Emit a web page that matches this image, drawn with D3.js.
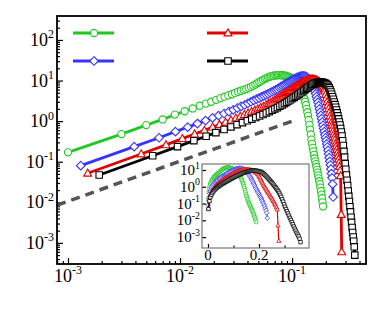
<!DOCTYPE html>
<html>
<head>
<meta charset="utf-8">
<script src="https://cdn.jsdelivr.net/npm/d3@7"></script>
<style>
  body { margin: 0; background: #fff; }
  svg { display: block; }
  text { font-family: "Liberation Serif", "Times New Roman", serif; fill: #000; }
</style>
</head>
<body>
<svg id="chart" width="374" height="312"></svg>
<script>
// ---- data ----
const greenX = [.001,.003,.005,.007,.009,.011,.013,.015,.017,.019,
  .021,.023,.025,.027,.029,.031,.033,.035,.037,.039,
  .041,.043,.045,.047,.049,.051,.053,.055,.057,.059,
  .061,.063,.065,.067,.069,.071,.073,.075,.077,.079,
  .081,.083,.085,.087,.089,.091,.093,.095,.097,.099,
  .101,.103,.105,.107,.109,.111,.113,.115,.117,.119,
  .121,.123,.125,.127,.129,.131,.133,.135,.137,.139,
  .141,.143,.145,.147,.149,.151,.153,.155,.157,.159,
  .161,.163,.165,.167,.169,.171,.173,.175,.177,.179,
  .181,.183,.185,.187,.189];
const greenY = [.17,.48,.8,1.1,1.45,1.75,2.05,2.4,2.7,3.0,
  3.35,3.7,4.0,4.3,4.6,4.95,5.3,5.6,5.9,6.2,
  6.6,7.0,7.5,8.0,8.6,9.2,9.8,10.4,11.0,11.5,
  12.0,12.4,12.7,13.0,13.2,13.4,13.5,13.6,13.6,13.6,
  13.5,13.4,13.3,13.1,12.9,12.6,12.3,12.0,11.7,11.4,
  11.1,10.7,10.2,9.7,9.1,8.5,7.9,7.2,6.6,6.1,
  5.5,4.9,4.4,3.9,3.5,3.0,2.5,2.0,1.66,1.35,
  1.07,.81,.62,.47,.35,.275,.22,.18,.148,.12,
  .102,.087,.074,.063,.054,.046,.039,.033,.028,.023,
  .019,.0155,.0126,.010,.0079];

const blueX = [.0013,.0039,.0065,.0091,.0117,.0143,.0169,.0195,.0221,.0247,
  .0273,.0299,.0325,.0351,.0377,.0403,.0429,.0455,.0481,.0507,
  .0533,.0559,.0585,.0611,.0637,.0663,.0689,.0715,.0741,.0767,
  .0793,.0819,.0845,.0871,.0897,.0923,.0949,.0975,.1001,.1027,
  .1053,.1079,.1105,.1131,.1157,.1183,.1209,.1235,.1261,.1287,
  .1313,.1339,.1365,.1391,.1417,.1443,.1469,.1495,.1521,.1547,
  .1573,.1599,.1625,.1651,.1677,.1703,.1729,.1755,.1781,.1807,
  .1833,.1859,.1885,.1911,.1937,.1963,.1989,.2015,.2041,.2067,
  .2093,.2119,.2145,.2171,.2197,.2223,.2249,.2275,.2301,.2327];
const blueY = [.08,.235,.39,.55,.71,.87,1.03,1.2,1.37,1.54,
  1.72,1.9,2.1,2.3,2.5,2.75,3.0,3.25,3.5,3.7,
  3.95,4.2,4.45,4.7,5.0,5.3,5.6,5.9,6.2,6.6,
  7.0,7.4,7.8,8.2,8.6,9.0,9.4,9.8,10.2,10.6,
  11.0,11.4,11.8,12.1,12.4,12.6,12.8,12.9,12.9,12.8,
  12.6,12.3,11.9,11.4,10.8,10.0,9.1,8.5,7.6,6.9,
  6.2,5.5,4.7,4.0,3.4,2.9,2.4,2.0,1.66,1.38,
  1.15,.95,.79,.66,.55,.46,.39,.33,.275,.23,
  .19,.155,.126,.102,.083,.066,.051,.040,.028,.0135];

const redX = [.0015,.0045,.0075,.0105,.0135,.0165,.0195,.0225,.0255,.0285,
  .0315,.0345,.0375,.0405,.0435,.0465,.0495,.0525,.0555,.0585,
  .0615,.0645,.0675,.0705,.0735,.0765,.0795,.0825,.0855,.0885,
  .0915,.0945,.0975,.1005,.1035,.1065,.1095,.1125,.1155,.1185,
  .1215,.1245,.1275,.1305,.1335,.1365,.1395,.1425,.1455,.1485,
  .1515,.1545,.1575,.1605,.1635,.1665,.1695,.1725,.1755,.1785,
  .1815,.1845,.1875,.1905,.1935,.1965,.1995,.2025,.2055,.2085,
  .2115,.2145,.2175,.2205,.2235,.2265,.2295,.2325,.2355,.2385,
  .2415,.2445,.2475,.2505,.2535,.2565,.2595,.2625,.2655,.2685,
  .2715,.2745,.2775];
const redY = [.052,.155,.26,.37,.48,.59,.71,.82,.94,1.06,
  1.18,1.31,1.44,1.57,1.71,1.85,2.0,2.15,2.3,2.5,
  2.7,2.9,3.1,3.35,3.6,3.85,4.1,4.4,4.7,5.0,
  5.35,5.7,6.05,6.4,6.75,7.1,7.45,7.8,8.15,8.5,
  8.85,9.2,9.5,9.8,10.05,10.3,10.5,10.65,10.75,10.8,
  10.8,10.75,10.65,10.5,10.3,10.1,9.85,9.55,9.2,8.8,
  8.35,7.85,7.3,6.7,6.1,5.5,4.5,3.7,3.0,2.45,
  2.0,1.62,1.32,1.1,.91,.78,.66,.56,.47,.40,
  .34,.28,.24,.20,.166,.138,.115,.093,.076,.060,
  .045,.005,.0006];

const blackX = [.0019,.0057,.0095,.0133,.0171,.0209,.0247,.0285,.0323,.0361,
  .0399,.0437,.0475,.0513,.0551,.0589,.0627,.0665,.0703,.0741,
  .0779,.0817,.0855,.0893,.0931,.0969,.1007,.1045,.1083,.1121,
  .1159,.1197,.1235,.1273,.1311,.1349,.1387,.1425,.1463,.1501,
  .1539,.1577,.1615,.1653,.1691,.1729,.1767,.1805,.1843,.1881,
  .1919,.1957,.1995,.2033,.2071,.2109,.2147,.2185,.2223,.2261,
  .2299,.2337,.2375,.2413,.2451,.2489,.2527,.2565,.2603,.2641,
  .2679,.2717,.2755,.2793,.2831,.2869,.2907,.2945,.2983,.3021,
  .3059,.3097,.3135,.3173,.3211,.3249,.3287,.3325,.3363,.3401,
  .3439,.3477,.3515,.3553,.3591,.3629];
const blackY = [.047,.14,.235,.33,.425,.52,.62,.72,.82,.92,
  1.02,1.12,1.23,1.34,1.46,1.58,1.71,1.85,2.0,2.15,
  2.32,2.5,2.7,2.9,3.12,3.35,3.6,3.85,4.1,4.4,
  4.7,5.0,5.35,5.7,6.05,6.4,6.75,7.1,7.45,7.8,
  8.1,8.4,8.65,8.85,9.0,9.1,9.15,9.15,9.1,9.0,
  8.85,8.65,8.4,8.1,7.75,7.2,6.6,5.9,5.2,4.6,
  4.0,3.45,2.95,2.55,2.2,1.88,1.6,1.35,1.14,.95,
  .8,.66,.54,.43,.33,.25,.18,.13,.09,.065,
  .047,.035,.026,.019,.014,.0105,.0078,.0058,.0043,.0032,
  .0024,.0018,.0014,.0011,.0008,.0005];

// reference slope-1 guide line
const guideX = [0.0008, 0.1];
const guideY = [0.0085, 1.0];

// tick labels (powers of ten)
const xTickExp = [-3, -2, -1];
const yTickExp = [-3, -2, -1, 0, 1, 2];
const insetYTickExp = [-3, -2, -1, 0, 1];
const insetXTicks = [0, 0.2];
const insetXMinor = [0.1, 0.3];

const series = [
  {xs: greenX, ys: greenY, color: "#20c820", shape: "circle"},
  {xs: blueX, ys: blueY, color: "#3535ff", shape: "diamond"},
  {xs: redX, ys: redY, color: "#e00000", shape: "triangle"},
  {xs: blackX, ys: blackY, color: "#000000", shape: "square"}
];

// ---- helpers ----
function markerPath(shape, s) {
  if (shape === "circle") return d3.symbol(d3.symbolCircle, Math.PI * s * s)();
  if (shape === "diamond") return `M0,${-s * 1.2}L${s * 1.2},0L0,${s * 1.2}L${-s * 1.2},0Z`;
  if (shape === "triangle") return `M0,${-s * 1.15}L${s * 1.1},${s * 0.8}L${-s * 1.1},${s * 0.8}Z`;
  return `M${-s * 0.9},${-s * 0.9}h${s * 1.8}v${s * 1.8}h${-s * 1.8}Z`;
}

function powLabel(g, px, py, exp, size, anchor) {
  const t = g.append("text")
    .attr("x", px).attr("y", py)
    .attr("text-anchor", anchor)
    .style("font-size", size + "px");
  t.append("tspan").text("10");
  t.append("tspan")
    .attr("dy", -size * 0.42)
    .style("font-size", (size * 0.66) + "px")
    .text(exp);
}

function drawSeries(g, xs, ys, lineW, markR, markW) {
  series.forEach(d => {
    const pts = d.xs.map((v, i) => [v, d.ys[i]]);
    g.append("path")
      .datum(pts)
      .attr("fill", "none")
      .attr("stroke", d.color)
      .attr("stroke-width", lineW)
      .attr("d", d3.line().x(p => xs(p[0])).y(p => ys(p[1])));
    g.selectAll(null)
      .data(pts)
      .enter().append("path")
      .attr("transform", p => `translate(${xs(p[0])},${ys(p[1])})`)
      .attr("d", markerPath(d.shape, markR))
      .attr("fill", "#fff")
      .attr("stroke", d.color)
      .attr("stroke-width", markW);
  });
}

// ---- main plot ----
const svg = d3.select("#chart");
const plot = {left: 57, right: 366, top: 16, bottom: 264};

const x = d3.scaleLog().domain([Math.pow(10, -3.098), Math.pow(10, -0.34)]).range([plot.left, plot.right]);
const y = d3.scaleLog().domain([Math.pow(10, -3.52), Math.pow(10, 2.59)]).range([plot.bottom, plot.top]);

// ticks (inward)
const isDecade = v => Math.abs(Math.log10(v) - Math.round(Math.log10(v))) < 1e-6;
const xAll = x.ticks();
const xMajor = xAll.filter(isDecade);
const xMinor = xAll.filter(v => !isDecade(v));
const yAll = y.ticks();
const yMajor = yAll.filter(isDecade);
const yMinor = yAll.filter(v => !isDecade(v));

function axisG(gen, tr) {
  const g = svg.append("g").attr("transform", tr).call(gen);
  g.select(".domain").remove();
  g.selectAll("text").remove();
  g.selectAll("line").attr("stroke", "#000").attr("stroke-width", 1.2);
  return g;
}
axisG(d3.axisBottom(x).tickValues(xMajor).tickSize(-6), `translate(0,${plot.bottom})`);
axisG(d3.axisBottom(x).tickValues(xMinor).tickSize(-3), `translate(0,${plot.bottom})`);
axisG(d3.axisLeft(y).tickValues(yMajor).tickSize(-6), `translate(${plot.left},0)`);
axisG(d3.axisLeft(y).tickValues(yMinor).tickSize(-3), `translate(${plot.left},0)`);

const labels = svg.append("g");
xTickExp.forEach(e => powLabel(labels, x(Math.pow(10, e)), 282, String(e), 18, "middle"));
yTickExp.forEach(e => powLabel(labels, 54, y(Math.pow(10, e)) + 6, String(e), 18, "end"));

// guide line
svg.append("path")
  .datum(guideX.map((v, i) => [v, guideY[i]]))
  .attr("fill", "none")
  .attr("stroke", "#555")
  .attr("stroke-width", 3.5)
  .attr("stroke-dasharray", "9,6")
  .attr("d", d3.line().x(p => x(p[0])).y(p => y(p[1])));

// data
drawSeries(svg.append("g"), x, y, 2.8, 3.6, 1.1);

// frame
svg.append("rect")
  .attr("x", plot.left).attr("y", plot.top)
  .attr("width", plot.right - plot.left).attr("height", plot.bottom - plot.top)
  .attr("fill", "none").attr("stroke", "#000").attr("stroke-width", 1.8);

// legend (labels are blank in the original)
const legendPos = [[73, 33], [73, 61], [207, 33], [207, 61]];
series.forEach((d, i) => {
  const [lx, ly] = legendPos[i];
  svg.append("line")
    .attr("x1", lx).attr("x2", lx + 41).attr("y1", ly).attr("y2", ly)
    .attr("stroke", d.color).attr("stroke-width", 3);
  svg.append("path")
    .attr("transform", `translate(${lx + 21},${ly})`)
    .attr("d", markerPath(d.shape, 3.6))
    .attr("fill", "#fff").attr("stroke", d.color).attr("stroke-width", 1.1);
});

// ---- inset ----
const ins = {left: 202, right: 309, top: 164, bottom: 248};
const ix = d3.scaleLinear().domain([-0.0235, 0.396]).range([ins.left, ins.right]);
const iy = d3.scaleLog().domain([Math.pow(10, -3.65), Math.pow(10, 1.357)]).range([ins.bottom, ins.top]);

svg.append("rect")
  .attr("x", ins.left).attr("y", ins.top)
  .attr("width", ins.right - ins.left).attr("height", ins.bottom - ins.top)
  .attr("fill", "#fff");

svg.append("clipPath").attr("id", "insClip").append("rect")
  .attr("x", ins.left).attr("y", ins.top)
  .attr("width", ins.right - ins.left).attr("height", ins.bottom - ins.top);

const iyMajor = insetYTickExp.map(e => Math.pow(10, e));
axisG(d3.axisLeft(iy).tickValues(iyMajor).tickSize(-4), `translate(${ins.left},0)`);
axisG(d3.axisBottom(ix).tickValues(insetXTicks).tickSize(-4), `translate(0,${ins.bottom})`);
axisG(d3.axisBottom(ix).tickValues(insetXMinor).tickSize(-2.5), `translate(0,${ins.bottom})`);

drawSeries(svg.append("g").attr("clip-path", "url(#insClip)"), ix, iy, 1.2, 1.9, 0.8);

svg.append("rect")
  .attr("x", ins.left).attr("y", ins.top)
  .attr("width", ins.right - ins.left).attr("height", ins.bottom - ins.top)
  .attr("fill", "none").attr("stroke", "#777").attr("stroke-width", 1.2);

insetYTickExp.forEach(e => powLabel(labels, 200, iy(Math.pow(10, e)) + 5, String(e), 15, "end"));
insetXTicks.forEach(v => labels.append("text")
  .attr("x", ix(v)).attr("y", 260)
  .attr("text-anchor", "middle")
  .style("font-size", "15px")
  .text(v === 0 ? "0" : String(v)));
labels.raise();
</script>
</body>
</html>
